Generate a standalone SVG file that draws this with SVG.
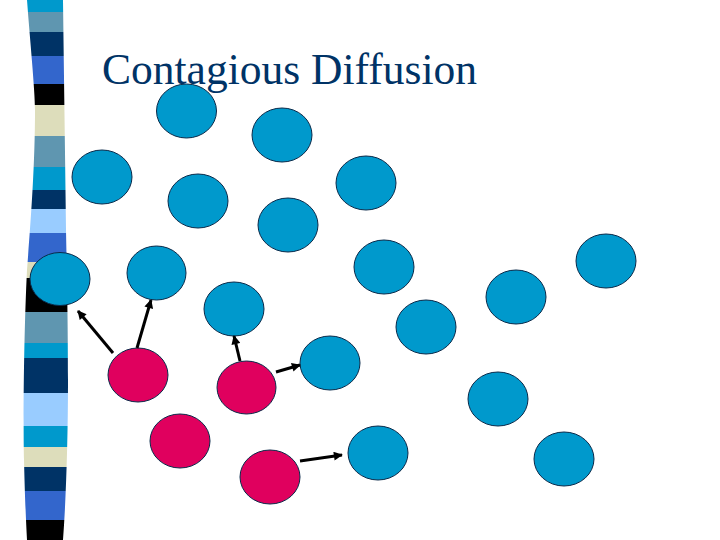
<svg xmlns="http://www.w3.org/2000/svg" width="720" height="540" viewBox="0 0 720 540">
<style>
.blue{fill:#0099CC;stroke:#0a2a4a;stroke-width:1}
.pink{fill:#E0005E;stroke:#0a2a4a;stroke-width:1}
.arr{stroke:#000;stroke-width:3;fill:none;marker-end:url(#ah)}
.title{font-family:"Liberation Serif","Times New Roman",serif;font-size:43.5px;fill:#003366}
</style>
<defs>
<marker id="ah" viewBox="0 0 10 10" refX="9" refY="5" markerWidth="11" markerHeight="9" markerUnits="userSpaceOnUse" orient="auto">
<path d="M0,0 L10,5 L0,10 Z" fill="#000"/>
</marker>
<clipPath id="stripeClip">
<path d="M27,0 C30,40 35,90 35,110 C35,170 30,230 27,270 C24,330 23,420 24,460 C25,500 26,520 27,540 L63,540 C66,500 68,440 68,380 C68,320 67,280 66,230 C65,150 64,80 63,0 Z"/>
</clipPath>
</defs>
<rect width="720" height="540" fill="#fff"/>
<g id="stripe" clip-path="url(#stripeClip)">
<rect x="20" y="0" width="50" height="12" fill="#0099CC"/>
<rect x="20" y="12" width="50" height="20" fill="#5F96B0"/>
<rect x="20" y="32" width="50" height="24" fill="#003366"/>
<rect x="20" y="56" width="50" height="28" fill="#3366CC"/>
<rect x="20" y="84" width="50" height="21" fill="#000"/>
<rect x="20" y="105" width="50" height="31" fill="#DDDDBB"/>
<rect x="20" y="136" width="50" height="31" fill="#5F96B0"/>
<rect x="20" y="167" width="50" height="23" fill="#0099CC"/>
<rect x="20" y="190" width="50" height="19" fill="#003366"/>
<rect x="20" y="209" width="50" height="24" fill="#99CCFF"/>
<rect x="20" y="233" width="50" height="29" fill="#3366CC"/>
<rect x="20" y="262" width="50" height="16" fill="#DDDDBB"/>
<rect x="20" y="278" width="50" height="34" fill="#000"/>
<rect x="20" y="312" width="50" height="31" fill="#5F96B0"/>
<rect x="20" y="343" width="50" height="15" fill="#0099CC"/>
<rect x="20" y="358" width="50" height="35" fill="#003366"/>
<rect x="20" y="393" width="50" height="33" fill="#99CCFF"/>
<rect x="20" y="426" width="50" height="21" fill="#0099CC"/>
<rect x="20" y="447" width="50" height="20" fill="#DDDDBB"/>
<rect x="20" y="467" width="50" height="24" fill="#003366"/>
<rect x="20" y="491" width="50" height="29" fill="#3366CC"/>
<rect x="20" y="520" width="50" height="20" fill="#000"/>
</g>
<text class="title" x="102" y="84">Contagious Diffusion</text>
<g id="b1"><ellipse class="blue" cx="186.5" cy="111" rx="30" ry="27"/></g>
<g id="b2"><ellipse class="blue" cx="282" cy="135" rx="30" ry="27"/></g>
<g id="b3"><ellipse class="blue" cx="102" cy="177" rx="30" ry="27"/></g>
<g id="b4"><ellipse class="blue" cx="198" cy="201" rx="30" ry="27"/></g>
<g id="b5"><ellipse class="blue" cx="366" cy="183" rx="30" ry="27"/></g>
<g id="b6"><ellipse class="blue" cx="288" cy="225" rx="30" ry="27"/></g>
<g id="b7"><ellipse class="blue" cx="60" cy="279" rx="30" ry="26.5"/></g>
<g id="b8"><ellipse class="blue" cx="156.5" cy="273" rx="29.5" ry="27"/></g>
<g id="b9"><ellipse class="blue" cx="384" cy="267" rx="30" ry="27"/></g>
<g id="b10"><ellipse class="blue" cx="234" cy="309" rx="30" ry="27"/></g>
<g id="b11"><ellipse class="blue" cx="516" cy="297" rx="30" ry="27"/></g>
<g id="b12"><ellipse class="blue" cx="606" cy="261" rx="30" ry="27"/></g>
<g id="b13"><ellipse class="blue" cx="426" cy="327" rx="30" ry="27"/></g>
<g id="b14"><ellipse class="blue" cx="330" cy="363" rx="30" ry="27"/></g>
<g id="b15"><ellipse class="blue" cx="498" cy="399" rx="30" ry="27"/></g>
<g id="b16"><ellipse class="blue" cx="378" cy="453" rx="30" ry="27"/></g>
<g id="b17"><ellipse class="blue" cx="564" cy="459" rx="30" ry="27"/></g>
<g id="p1"><ellipse class="pink" cx="138" cy="375" rx="30" ry="27"/></g>
<g id="p2"><ellipse class="pink" cx="246.5" cy="387.5" rx="29.5" ry="26.5"/></g>
<g id="p3"><ellipse class="pink" cx="180" cy="441" rx="30" ry="27"/></g>
<g id="p4"><ellipse class="pink" cx="270" cy="477" rx="30" ry="27"/></g>
<g id="connectors">
<line class="arr" x1="113" y1="353" x2="78" y2="311"/>
<line class="arr" x1="137" y1="348" x2="151" y2="300"/>
<line class="arr" x1="240" y1="361" x2="234" y2="336"/>
<line class="arr" x1="276" y1="372" x2="300" y2="365"/>
<line class="arr" x1="300" y1="461" x2="342" y2="455"/>
</g>
</svg>
